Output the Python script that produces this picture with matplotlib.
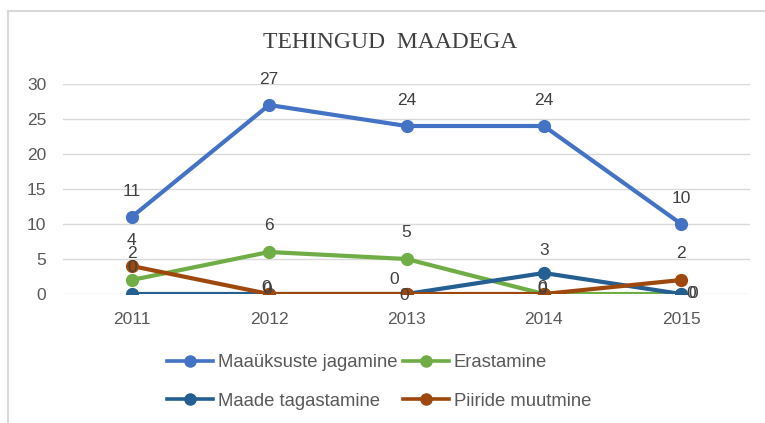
import matplotlib
matplotlib.use("Agg")
import matplotlib.pyplot as plt
from matplotlib.lines import Line2D

years = ["2011", "2012", "2013", "2014", "2015"]
maayksuste = [11, 27, 24, 24, 10]
erastamine = [2, 6, 5, 0, 0]
tagastamine = [0, 0, 0, 3, 0]
piiride = [4, 0, 0, 0, 2]
names = ["Maaüksuste jagamine", "Erastamine", "Maade tagastamine", "Piiride muutmine"]
yticks = [0, 5, 10, 15, 20, 25, 30]

colors = ["#4472C4", "#70AD47", "#255E91", "#9E480E"]
series = [maayksuste, erastamine, tagastamine, piiride]
# label offsets in pixels (dx, dy) per series per point
offsets = [
    [(0, 26)] * 5,
    [(0, 27), (0, 27), (0, 27), (-2, 7), (12, 0)],
    [(0, 26), (-3, 6), (-12, 15), (0, 23), (10, 0)],
    [(0, 26), (-2, 4), (-2, -2), (-2, 5), (0, 26)],
]

FS = 12.5
fig = plt.figure(figsize=(7.65, 4.23), dpi=100)
ax = fig.add_axes([63/765, 1-294/423, (750-63)/765, (294-84)/423])
x = list(range(len(years)))
for vals, c in zip(series, colors):
    ax.plot(x, vals, color=c, lw=3.0, marker="o", ms=8.5, solid_capstyle="round")
for vals, offs in zip(series, offsets):
    for xi, v, (dx, dy) in zip(x, vals, offs):
        ax.annotate(str(v), (xi, v), xytext=(dx*0.72, dy*0.72), textcoords="offset points",
                    ha="center", va="center", fontsize=FS, color="#404040",
                    family="Liberation Sans")

ax.set_xlim(-0.5, 4.5)
ax.set_ylim(0, 30)
ax.set_yticks(yticks)
ax.set_xticks(x)
ax.set_xticklabels(years)
ax.yaxis.grid(True, color="#D9D9D9", lw=1)
ax.set_axisbelow(True)
for s in ax.spines.values():
    s.set_visible(False)
ax.tick_params(length=0, labelsize=FS, colors="#595959")
for lab in ax.get_xticklabels() + ax.get_yticklabels():
    lab.set_family("Liberation Sans")
ax.tick_params(axis="x", pad=13)
ax.tick_params(axis="y", pad=12)

fig.text(390/765, 1-42/423, "TEHINGUD  MAADEGA", ha="center", va="center",
         family="Liberation Serif", fontsize=17, color="#404040")

order = [0, 2, 1, 3]
handles = [Line2D([0], [0], color=colors[i], lw=2.6, marker="o", ms=8) for i in order]
labels = [names[i] for i in order]
fig.legend(handles, labels, loc="center", bbox_to_anchor=(379/765, 1-382/423), ncol=2,
           frameon=False, prop={"family": "Liberation Sans", "size": 13.3},
           labelcolor="#595959", handlelength=2.5, handletextpad=0.25,
           columnspacing=0.3, labelspacing=1.15)

fig.add_artist(Line2D([8/765, 8/765], [0, 1-11/423], color="#D9D9D9", lw=1.5,
                      transform=fig.transFigure))
fig.add_artist(Line2D([8/765, 1], [1-11/423, 1-11/423], color="#D9D9D9", lw=1.5,
                      transform=fig.transFigure))

fig.savefig("out.png", dpi=100)
